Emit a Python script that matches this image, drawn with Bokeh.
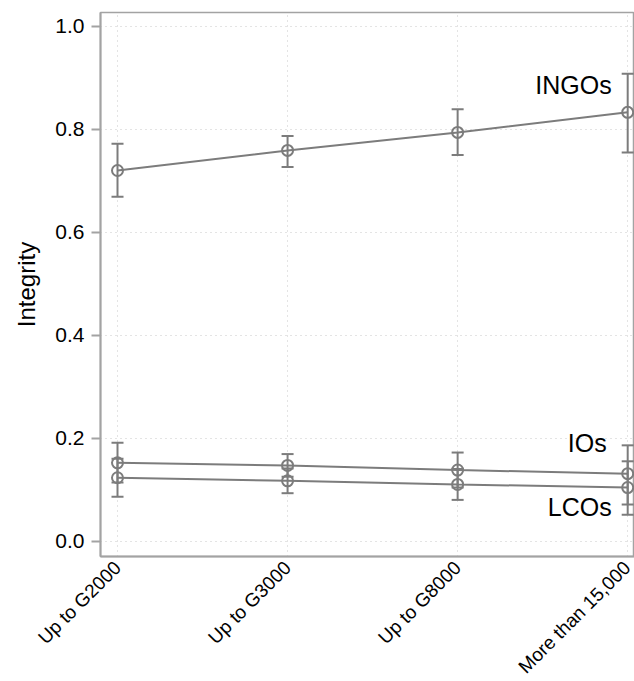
import math
from bokeh.plotting import figure
from bokeh.models import (ColumnDataSource, FixedTicker, PrintfTickFormatter,
                          Whisker, TeeHead, Range1d, Label)
from bokeh.embed import file_html
from bokeh.resources import INLINE

# ---- data ----
categories = ["Up to G2000", "Up to G3000", "Up to G8000", "More than 15,000"]

ingos_mean = [0.720, 0.759, 0.794, 0.833]
ingos_low = [0.669, 0.727, 0.750, 0.755]
ingos_high = [0.772, 0.787, 0.839, 0.908]

ios_mean = [0.152, 0.147, 0.138, 0.131]
ios_low = [0.114, 0.125, 0.104, 0.071]
ios_high = [0.191, 0.169, 0.172, 0.186]

lcos_mean = [0.123, 0.117, 0.110, 0.104]
lcos_low = [0.086, 0.093, 0.080, 0.051]
lcos_high = [0.160, 0.141, 0.140, 0.155]

y_ticks = [0.0, 0.2, 0.4, 0.6, 0.8, 1.0]
series_labels = ["INGOs", "IOs", "LCOs"]

# ---- style ----
GRAY = "#7c7c7c"
AXIS_GRAY = "#a3a3a3"
FONT = "Liberation Sans"

xs = list(range(len(categories)))

p = figure(frame_width=534, frame_height=544,
           output_backend="svg", toolbar_location=None,
           x_range=Range1d(-0.1, 3.04), y_range=Range1d(-0.03, 1.027),
           min_border_left=100, min_border_top=12, min_border_right=0,
           min_border_bottom=100)

p.outline_line_color = AXIS_GRAY
p.outline_line_width = 1.5
p.background_fill_color = "white"
p.border_fill_color = "white"

# grids
for g in (p.xgrid, p.ygrid):
    g.grid_line_color = "#c8c8c8"
    g.grid_line_dash = "1 4"
    g.grid_line_width = 1
p.ygrid.ticker = FixedTicker(ticks=y_ticks)
p.xgrid.ticker = FixedTicker(ticks=xs)

# axes
p.yaxis.ticker = FixedTicker(ticks=y_ticks)
p.yaxis.formatter = PrintfTickFormatter(format="%.1f")
p.yaxis.axis_label = "Integrity"
p.yaxis.axis_label_text_font = FONT
p.yaxis.axis_label_text_font_size = "24px"
p.yaxis.axis_label_text_font_style = "normal"
p.yaxis.axis_label_text_color = "black"
p.yaxis.axis_label_standoff = 12
p.yaxis.major_tick_out = 9
p.yaxis.major_tick_in = 0
p.yaxis.minor_tick_out = 0
p.yaxis.minor_tick_in = 0

p.xaxis.ticker = FixedTicker(ticks=xs)
p.xaxis.major_label_overrides = {i: c for i, c in zip(xs, categories)}
p.xaxis.major_label_orientation = math.pi / 4
p.xaxis.major_tick_out = 0
p.xaxis.major_tick_in = 0
p.xaxis.minor_tick_out = 0
p.xaxis.minor_tick_in = 0
p.xaxis.major_label_standoff = 8

for ax in (p.xaxis, p.yaxis):
    ax.axis_line_color = AXIS_GRAY
    ax.axis_line_width = 2
    ax.major_tick_line_color = AXIS_GRAY
    ax.major_tick_line_width = 2
    ax.major_label_text_font = FONT
    ax.major_label_text_color = "black"
p.yaxis.major_label_text_font_size = "21px"
p.xaxis.major_label_text_font_size = "19px"
p.yaxis.major_label_standoff = 7

# series
for mean, low, high in [(ingos_mean, ingos_low, ingos_high),
                        (ios_mean, ios_low, ios_high),
                        (lcos_mean, lcos_low, lcos_high)]:
    src = ColumnDataSource(dict(x=xs, y=mean, lo=low, hi=high))
    p.line("x", "y", source=src, line_color=GRAY, line_width=2)
    w = Whisker(base="x", lower="lo", upper="hi", source=src,
                line_color=GRAY, line_width=2,
                upper_head=TeeHead(size=12, line_color=GRAY, line_width=2),
                lower_head=TeeHead(size=12, line_color=GRAY, line_width=2))
    p.add_layout(w)
    p.scatter("x", "y", source=src, marker="circle", size=11,
              fill_alpha=0, line_color=GRAY, line_width=2)

# series labels
label_y = [0.886, 0.190, 0.066]
label_dx = [-16, -21, -16]
for txt, ly, dx in zip(series_labels, label_y, label_dx):
    p.add_layout(Label(x=xs[-1], y=ly, x_offset=dx, text=txt,
                       text_align="right", text_baseline="alphabetic",
                       text_font=FONT, text_font_size="25px",
                       text_color="black"))

open("out.html", "w").write(file_html(p, INLINE))
